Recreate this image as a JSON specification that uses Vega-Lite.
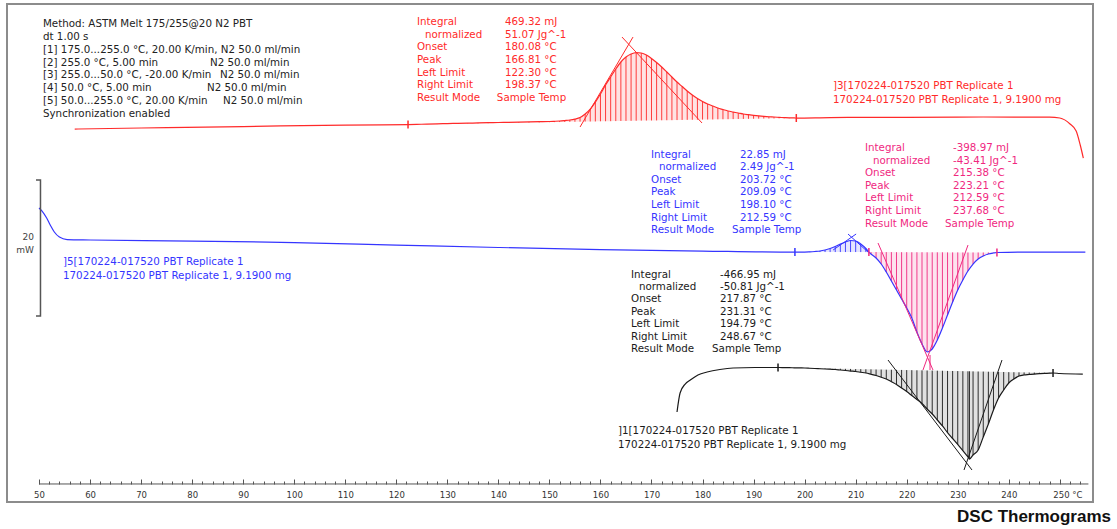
{
"$schema": "https://vega.github.io/schema/vega-lite/v6.json",
"width": 1086, "height": 498,
"autosize": {"type": "none"},
"padding": {"left": 7, "top": 4, "right": 24, "bottom": 27},
"background": "white",
"title": {"text": "DSC Thermograms", "orient": "bottom", "anchor": "end", "font": "Liberation Sans", "fontSize": 17, "fontWeight": "bold", "color": "#111111", "offset": 7, "dx": 18},
"config": {"view": {"stroke": "#8c8c8c", "strokeWidth": 2}},
"datasets": {
"curves": [
{"s":"c3","T":57,"v":54.85},{"s":"c3","T":70,"v":55.0},{"s":"c3","T":90,"v":55.22},{"s":"c3","T":110,"v":55.44},{"s":"c3","T":122.3,"v":55.51},
{"s":"c3","p":"c3","T":124,"v":55.54,"b":55.53},{"s":"c3","p":"c3","T":126,"v":55.57,"b":55.56},{"s":"c3","p":"c3","T":128,"v":55.61,"b":55.58},{"s":"c3","p":"c3","T":130,"v":55.66,"b":55.61},{"s":"c3","p":"c3","T":132,"v":55.69,"b":55.63},{"s":"c3","p":"c3","T":134,"v":55.72,"b":55.66},{"s":"c3","p":"c3","T":136,"v":55.75,"b":55.68},{"s":"c3","p":"c3","T":138,"v":55.78,"b":55.71},{"s":"c3","p":"c3","T":140,"v":55.81,"b":55.73},{"s":"c3","p":"c3","T":142,"v":55.84,"b":55.76},{"s":"c3","p":"c3","T":144,"v":55.87,"b":55.78},{"s":"c3","p":"c3","T":146,"v":55.90,"b":55.81},{"s":"c3","p":"c3","T":148,"v":55.93,"b":55.83},{"s":"c3","p":"c3","T":150,"v":55.96,"b":55.86},
{"s":"c3","p":"c3","T":151,"v":55.99,"b":55.87},{"s":"c3","p":"c3","T":152,"v":56.03,"b":55.88},{"s":"c3","p":"c3","T":153,"v":56.10,"b":55.90},{"s":"c3","p":"c3","T":154,"v":56.18,"b":55.91},{"s":"c3","p":"c3","T":155,"v":56.32,"b":55.92},{"s":"c3","p":"c3","T":156,"v":56.54,"b":55.94},{"s":"c3","p":"c3","T":157,"v":57.06,"b":55.95},{"s":"c3","p":"c3","T":158,"v":57.79,"b":55.96},{"s":"c3","p":"c3","T":159,"v":58.82,"b":55.97},{"s":"c3","p":"c3","T":160,"v":60.0,"b":55.99},
{"s":"c3","p":"c3","T":161,"v":61.32,"b":56.00},{"s":"c3","p":"c3","T":162,"v":62.5,"b":56.01},{"s":"c3","p":"c3","T":163,"v":63.68,"b":56.02},{"s":"c3","p":"c3","T":164,"v":64.71,"b":56.04},{"s":"c3","p":"c3","T":165,"v":65.44,"b":56.05},{"s":"c3","p":"c3","T":166,"v":65.88,"b":56.06},{"s":"c3","p":"c3","T":167,"v":66.10,"b":56.07},{"s":"c3","p":"c3","T":168,"v":66.03,"b":56.09},{"s":"c3","p":"c3","T":169,"v":65.74,"b":56.10},{"s":"c3","p":"c3","T":170,"v":65.22,"b":56.11},
{"s":"c3","p":"c3","T":171,"v":64.63,"b":56.12},{"s":"c3","p":"c3","T":172,"v":63.97,"b":56.14},{"s":"c3","p":"c3","T":173,"v":63.24,"b":56.15},{"s":"c3","p":"c3","T":174,"v":62.5,"b":56.16},{"s":"c3","p":"c3","T":175,"v":61.76,"b":56.17},{"s":"c3","p":"c3","T":176,"v":61.10,"b":56.19},{"s":"c3","p":"c3","T":177,"v":60.44,"b":56.20},{"s":"c3","p":"c3","T":178,"v":59.85,"b":56.21},{"s":"c3","p":"c3","T":179,"v":59.34,"b":56.23},{"s":"c3","p":"c3","T":180,"v":58.90,"b":56.24},
{"s":"c3","p":"c3","T":181,"v":58.53,"b":56.25},{"s":"c3","p":"c3","T":182,"v":58.24,"b":56.26},{"s":"c3","p":"c3","T":183,"v":57.94,"b":56.28},{"s":"c3","p":"c3","T":184,"v":57.72,"b":56.29},{"s":"c3","p":"c3","T":185,"v":57.5,"b":56.30},{"s":"c3","p":"c3","T":186,"v":57.35,"b":56.31},{"s":"c3","p":"c3","T":187,"v":57.21,"b":56.33},{"s":"c3","p":"c3","T":188,"v":57.06,"b":56.34},{"s":"c3","p":"c3","T":189,"v":56.96,"b":56.35},{"s":"c3","p":"c3","T":190,"v":56.87,"b":56.36},
{"s":"c3","p":"c3","T":191,"v":56.79,"b":56.38},{"s":"c3","p":"c3","T":192,"v":56.72,"b":56.39},{"s":"c3","p":"c3","T":193,"v":56.66,"b":56.40},{"s":"c3","p":"c3","T":194,"v":56.62,"b":56.41},{"s":"c3","p":"c3","T":195,"v":56.57,"b":56.43},{"s":"c3","p":"c3","T":196,"v":56.53,"b":56.44},{"s":"c3","p":"c3","T":197,"v":56.50,"b":56.45},{"s":"c3","p":"c3","T":198,"v":56.48,"b":56.46},
{"s":"c3","T":198.37,"v":56.47},{"s":"c3","T":205,"v":56.54},{"s":"c3","T":220,"v":56.58},{"s":"c3","T":235,"v":56.62},{"s":"c3","T":248,"v":56.6},{"s":"c3","T":250,"v":56.47},{"s":"c3","T":252,"v":55.59},{"s":"c3","T":253.2,"v":54.56},{"s":"c3","T":254,"v":52.5},{"s":"c3","T":254.6,"v":50.59},
{"s":"h5","T":50,"v":43.24},{"s":"h5","T":50.6,"v":42.79},{"s":"h5","T":51.5,"v":41.76},{"s":"h5","T":52.2,"v":40.74},{"s":"h5","T":53,"v":39.71},{"s":"h5","T":54,"v":38.97},{"s":"h5","T":55.5,"v":38.60},{"s":"h5","T":60,"v":38.53},{"s":"h5","T":80,"v":38.38},{"s":"h5","T":100,"v":38.16},{"s":"h5","T":120,"v":37.79},{"s":"h5","T":140,"v":37.43},{"s":"h5","T":160,"v":37.13},{"s":"h5","T":180,"v":36.91},{"s":"h5","T":198.1,"v":36.76},
{"s":"h5","p":"h5","T":199,"v":36.76,"b":36.76},{"s":"h5","p":"h5","T":200,"v":36.76,"b":36.76},{"s":"h5","p":"h5","T":201,"v":36.79,"b":36.76},{"s":"h5","p":"h5","T":202,"v":36.84,"b":36.76},{"s":"h5","p":"h5","T":203,"v":36.91,"b":36.76},{"s":"h5","p":"h5","T":204,"v":37.06,"b":36.76},{"s":"h5","p":"h5","T":205,"v":37.28,"b":36.76},{"s":"h5","p":"h5","T":206,"v":37.57,"b":36.76},{"s":"h5","p":"h5","T":207,"v":37.94,"b":36.76},{"s":"h5","p":"h5","T":208,"v":38.24,"b":36.76},{"s":"h5","p":"h5","T":209,"v":38.46,"b":36.76},{"s":"h5","p":"h5","T":210,"v":38.38,"b":36.76},{"s":"h5","p":"h5","T":211,"v":37.94,"b":36.76},{"s":"h5","p":"h5","T":212,"v":37.28,"b":36.76},
{"s":"h5","T":212.59,"v":36.76},
{"s":"h5","p":"h5e","T":213,"v":36.47,"b":36.76},{"s":"h5","p":"h5e","T":214,"v":35.88,"b":36.76},{"s":"h5","p":"h5e","T":215,"v":35.0,"b":36.75},{"s":"h5","p":"h5e","T":216,"v":33.82,"b":36.75},{"s":"h5","p":"h5e","T":217,"v":32.5,"b":36.75},{"s":"h5","p":"h5e","T":218,"v":31.18,"b":36.74},{"s":"h5","p":"h5e","T":219,"v":29.85,"b":36.74},{"s":"h5","p":"h5e","T":220,"v":28.53,"b":36.74},{"s":"h5","p":"h5e","T":221,"v":27.06,"b":36.73},{"s":"h5","p":"h5e","T":222,"v":25.0,"b":36.73},{"s":"h5","p":"h5e","T":223,"v":23.24,"b":36.73},{"s":"h5","p":"h5e","T":224,"v":22.06,"b":36.72},{"s":"h5","p":"h5e","T":225,"v":22.5,"b":36.72},
{"s":"h5","p":"h5e","T":226,"v":23.82,"b":36.72},{"s":"h5","p":"h5e","T":227,"v":25.59,"b":36.72},{"s":"h5","p":"h5e","T":228,"v":27.5,"b":36.71},{"s":"h5","p":"h5e","T":229,"v":29.41,"b":36.71},{"s":"h5","p":"h5e","T":230,"v":31.18,"b":36.71},{"s":"h5","p":"h5e","T":231,"v":32.65,"b":36.70},{"s":"h5","p":"h5e","T":232,"v":33.97,"b":36.70},{"s":"h5","p":"h5e","T":233,"v":35.0,"b":36.70},{"s":"h5","p":"h5e","T":234,"v":35.74,"b":36.70},{"s":"h5","p":"h5e","T":235,"v":36.18,"b":36.69},{"s":"h5","p":"h5e","T":236,"v":36.47,"b":36.69},{"s":"h5","p":"h5e","T":237,"v":36.62,"b":36.69},
{"s":"h5","T":237.68,"v":36.69},{"s":"h5","T":245,"v":36.76},{"s":"h5","T":255,"v":36.76},
{"s":"h1","T":175.0,"v":13.24},{"s":"h1","T":175.6,"v":16.03},{"s":"h1","T":176.6,"v":17.35},{"s":"h1","T":177.6,"v":17.94},{"s":"h1","T":179.1,"v":18.68},{"s":"h1","T":180.9,"v":19.12},{"s":"h1","T":183.4,"v":19.49},{"s":"h1","T":186.0,"v":19.71},{"s":"h1","T":190.3,"v":19.78},{"s":"h1","T":194.79,"v":19.78},
{"s":"h1","p":"h1","T":195,"v":19.78,"b":19.78},{"s":"h1","p":"h1","T":196,"v":19.76,"b":19.76},{"s":"h1","p":"h1","T":197,"v":19.75,"b":19.75},{"s":"h1","p":"h1","T":198,"v":19.74,"b":19.73},{"s":"h1","p":"h1","T":199,"v":19.72,"b":19.72},{"s":"h1","p":"h1","T":200,"v":19.71,"b":19.70},{"s":"h1","p":"h1","T":201,"v":19.67,"b":19.69},{"s":"h1","p":"h1","T":202,"v":19.63,"b":19.67},{"s":"h1","p":"h1","T":203,"v":19.60,"b":19.66},{"s":"h1","p":"h1","T":204,"v":19.56,"b":19.64},
{"s":"h1","p":"h1","T":205,"v":19.52,"b":19.63},{"s":"h1","p":"h1","T":206,"v":19.49,"b":19.61},{"s":"h1","p":"h1","T":207,"v":19.41,"b":19.60},{"s":"h1","p":"h1","T":208,"v":19.34,"b":19.58},{"s":"h1","p":"h1","T":209,"v":19.26,"b":19.57},{"s":"h1","p":"h1","T":210,"v":19.19,"b":19.55},{"s":"h1","p":"h1","T":211,"v":19.08,"b":19.54},{"s":"h1","p":"h1","T":212,"v":18.97,"b":19.52},{"s":"h1","p":"h1","T":213,"v":18.79,"b":19.51},{"s":"h1","p":"h1","T":214,"v":18.60,"b":19.49},
{"s":"h1","p":"h1","T":215,"v":18.35,"b":19.48},{"s":"h1","p":"h1","T":216,"v":18.09,"b":19.46},{"s":"h1","p":"h1","T":217,"v":17.69,"b":19.45},{"s":"h1","p":"h1","T":218,"v":17.28,"b":19.43},{"s":"h1","p":"h1","T":219,"v":16.76,"b":19.42},{"s":"h1","p":"h1","T":220,"v":16.25,"b":19.40},{"s":"h1","p":"h1","T":221,"v":15.66,"b":19.39},{"s":"h1","p":"h1","T":222,"v":15.07,"b":19.37},{"s":"h1","p":"h1","T":223,"v":14.49,"b":19.36},{"s":"h1","p":"h1","T":224,"v":13.68,"b":19.34},
{"s":"h1","p":"h1","T":225,"v":12.94,"b":19.33},{"s":"h1","p":"h1","T":226,"v":12.06,"b":19.31},{"s":"h1","p":"h1","T":227,"v":11.18,"b":19.30},{"s":"h1","p":"h1","T":228,"v":10.22,"b":19.28},{"s":"h1","p":"h1","T":229,"v":9.34,"b":19.27},{"s":"h1","p":"h1","T":230,"v":8.46,"b":19.25},{"s":"h1","p":"h1","T":231,"v":7.57,"b":19.24},{"s":"h1","p":"h1","T":232,"v":6.62,"b":19.22},{"s":"h1","p":"h1","T":232.3,"v":6.32,"b":19.22},{"s":"h1","p":"h1","T":233,"v":6.91,"b":19.21},
{"s":"h1","p":"h1","T":234,"v":7.65,"b":19.19},{"s":"h1","p":"h1","T":235,"v":9.56,"b":19.18},{"s":"h1","p":"h1","T":236,"v":11.47,"b":19.16},{"s":"h1","p":"h1","T":237,"v":13.53,"b":19.15},{"s":"h1","p":"h1","T":238,"v":15.29,"b":19.13},{"s":"h1","p":"h1","T":239,"v":16.47,"b":19.12},{"s":"h1","p":"h1","T":240,"v":17.5,"b":19.10},{"s":"h1","p":"h1","T":241,"v":18.09,"b":19.09},{"s":"h1","p":"h1","T":242,"v":18.53,"b":19.07},{"s":"h1","p":"h1","T":243,"v":18.68,"b":19.06},
{"s":"h1","p":"h1","T":244,"v":18.75,"b":19.04},{"s":"h1","p":"h1","T":245,"v":18.82,"b":19.03},{"s":"h1","p":"h1","T":246,"v":18.87,"b":19.01},{"s":"h1","p":"h1","T":247,"v":18.91,"b":19.00},{"s":"h1","p":"h1","T":248,"v":18.94,"b":18.98},
{"s":"h1","T":248.67,"v":18.97},{"s":"h1","T":250,"v":18.90},{"s":"h1","T":254.5,"v":18.82}
],
"segs": [
{"s":"c3","T":156.0,"v":55.15,"T2":166.38,"v2":68.38},{"s":"c3","T":164.22,"v":68.38,"T2":179.90,"v2":55.74},
{"s":"h1","T":216.34,"v":20.88,"T2":232.79,"v2":4.71},{"s":"h1","T":231.23,"v":4.71,"T2":238.67,"v2":20.88},
{"s":"h5e","T":214.38,"v":38.09,"T2":225.15,"v2":19.41},{"s":"h5e","T":223.19,"v":19.41,"T2":232.01,"v2":37.79},{"s":"h5e","T":224.57,"v":21.62,"T2":224.57,"v2":19.41},
{"s":"h5","T":205.58,"v":37.06,"T2":210.09,"v2":39.41},{"s":"h5","T":208.5,"v":39.41,"T2":212.42,"v2":36.76}
],
"limits": [
{"s":"c3","T":122.3,"v":55.51},{"s":"c3","T":198.37,"v":56.47},
{"s":"h5","T":198.1,"v":36.76},{"s":"h5e","T":212.59,"v":36.76},{"s":"h5e","T":237.68,"v":36.69},
{"s":"h1","T":194.79,"v":19.78},{"s":"h1","T":248.67,"v":18.97}
],
"notes": [
{"s":"k","T":50.78,"v":70.29,"t":"Method: ASTM Melt 175/255@20 N2 PBT"},
{"s":"k","T":50.78,"v":68.38,"t":"dt 1.00 s"},
{"s":"k","T":50.78,"v":66.47,"t":"[1] 175.0...255.0 °C, 20.00 K/min, N2 50.0 ml/min"},
{"s":"k","T":50.78,"v":64.56,"t":"[2] 255.0 °C, 5.00 min"},
{"s":"k","T":83.5,"v":64.56,"t":"N2 50.0 ml/min"},
{"s":"k","T":50.78,"v":62.79,"t":"[3] 255.0...50.0 °C, -20.00 K/min"},
{"s":"k","T":85.46,"v":62.79,"t":"N2 50.0 ml/min"},
{"s":"k","T":50.78,"v":60.88,"t":"[4] 50.0 °C, 5.00 min"},
{"s":"k","T":82.92,"v":60.88,"t":"N2 50.0 ml/min"},
{"s":"k","T":50.78,"v":58.97,"t":"[5] 50.0...255.0 °C, 20.00 K/min"},
{"s":"k","T":86.05,"v":58.97,"t":"N2 50.0 ml/min"},
{"s":"k","T":50.78,"v":57.06,"t":"Synchronization enabled"},
{"s":"c3","T":124.06,"v":70.59,"t":"Integral"},{"s":"c3","T":125.63,"v":68.68,"t":"normalized"},{"s":"c3","T":124.06,"v":66.91,"t":"Onset"},{"s":"c3","T":124.06,"v":65.0,"t":"Peak"},{"s":"c3","T":124.06,"v":63.09,"t":"Left Limit"},{"s":"c3","T":124.06,"v":61.32,"t":"Right Limit"},{"s":"c3","T":124.06,"v":59.41,"t":"Result Mode"},
{"s":"c3","T":141.3,"v":70.59,"t":"469.32 mJ"},{"s":"c3","T":141.3,"v":68.68,"t":"51.07 Jg^-1"},{"s":"c3","T":141.3,"v":66.91,"t":"180.08 °C"},{"s":"c3","T":141.3,"v":65.0,"t":"166.81 °C"},{"s":"c3","T":141.3,"v":63.09,"t":"122.30 °C"},{"s":"c3","T":141.3,"v":61.32,"t":"198.37 °C"},{"s":"c3","T":139.7,"v":59.41,"t":"Sample Temp"},
{"s":"c3","T":205.56,"v":61.18,"t":"]3[170224-017520 PBT Replicate 1"},{"s":"c3","T":205.56,"v":59.12,"t":"170224-017520 PBT Replicate 1, 9.1900 mg"},
{"s":"h5","T":169.91,"v":51.03,"t":"Integral"},{"s":"h5","T":171.47,"v":49.26,"t":"normalized"},{"s":"h5","T":169.91,"v":47.35,"t":"Onset"},{"s":"h5","T":169.91,"v":45.59,"t":"Peak"},{"s":"h5","T":169.91,"v":43.68,"t":"Left Limit"},{"s":"h5","T":169.91,"v":41.76,"t":"Right Limit"},{"s":"h5","T":169.91,"v":40.0,"t":"Result Mode"},
{"s":"h5","T":187.34,"v":51.03,"t":"22.85 mJ"},{"s":"h5","T":187.34,"v":49.26,"t":"2.49 Jg^-1"},{"s":"h5","T":187.34,"v":47.35,"t":"203.72 °C"},{"s":"h5","T":187.34,"v":45.59,"t":"209.09 °C"},{"s":"h5","T":187.34,"v":43.68,"t":"198.10 °C"},{"s":"h5","T":187.34,"v":41.76,"t":"212.59 °C"},{"s":"h5","T":185.77,"v":40.0,"t":"Sample Temp"},
{"s":"h5e","T":211.83,"v":52.06,"t":"Integral"},{"s":"h5e","T":213.4,"v":50.15,"t":"normalized"},{"s":"h5e","T":211.83,"v":48.38,"t":"Onset"},{"s":"h5e","T":211.83,"v":46.47,"t":"Peak"},{"s":"h5e","T":211.83,"v":44.71,"t":"Left Limit"},{"s":"h5e","T":211.83,"v":42.79,"t":"Right Limit"},{"s":"h5e","T":211.83,"v":40.88,"t":"Result Mode"},
{"s":"h5e","T":229.08,"v":52.06,"t":"-398.97 mJ"},{"s":"h5e","T":229.08,"v":50.15,"t":"-43.41 Jg^-1"},{"s":"h5e","T":229.08,"v":48.38,"t":"215.38 °C"},{"s":"h5e","T":229.08,"v":46.47,"t":"223.21 °C"},{"s":"h5e","T":229.08,"v":44.71,"t":"212.59 °C"},{"s":"h5e","T":229.08,"v":42.79,"t":"237.68 °C"},{"s":"h5e","T":227.51,"v":40.88,"t":"Sample Temp"},
{"s":"h1","T":165.99,"v":33.38,"t":"Integral"},{"s":"h1","T":167.55,"v":31.62,"t":"normalized"},{"s":"h1","T":165.99,"v":29.85,"t":"Onset"},{"s":"h1","T":165.99,"v":27.94,"t":"Peak"},{"s":"h1","T":165.99,"v":26.18,"t":"Left Limit"},{"s":"h1","T":165.99,"v":24.26,"t":"Right Limit"},{"s":"h1","T":165.99,"v":22.5,"t":"Result Mode"},
{"s":"h1","T":183.42,"v":33.38,"t":"-466.95 mJ"},{"s":"h1","T":183.42,"v":31.62,"t":"-50.81 Jg^-1"},{"s":"h1","T":183.42,"v":29.85,"t":"217.87 °C"},{"s":"h1","T":183.42,"v":27.94,"t":"231.31 °C"},{"s":"h1","T":183.42,"v":26.18,"t":"194.79 °C"},{"s":"h1","T":183.42,"v":24.26,"t":"248.67 °C"},{"s":"h1","T":181.86,"v":22.5,"t":"Sample Temp"},
{"s":"h5","T":54.7,"v":35.29,"t":"]5[170224-017520 PBT Replicate 1"},{"s":"h5","T":54.7,"v":33.24,"t":"170224-017520 PBT Replicate 1, 9.1900 mg"},
{"s":"h1","T":163.44,"v":10.44,"t":"]1[170224-017520 PBT Replicate 1"},{"s":"h1","T":163.44,"v":8.38,"t":"170224-017520 PBT Replicate 1, 9.1900 mg"}
],
"scalebar": [
{"o":1,"T":49.41,"v":47.35},{"o":2,"T":50.29,"v":47.35},{"o":3,"T":50.29,"v":27.35},{"o":4,"T":49.41,"v":27.35}
],
"scalelabel": [
{"T":49.02,"v":38.97,"t":"20"},{"T":49.02,"v":37.06,"t":"mW"}
],
"axisline": [
{"T":50,"T2":255.6,"v":2.65}
]
},
"encoding": {
"x": {"field":"T","type":"quantitative","scale":{"domain":[43.73,256.5],"nice":false,"zero":false},
 "axis": {"title": null, "domain": false, "grid": false, "offset": -18,
  "values": [50,52,54,56,58,60,62,64,66,68,70,72,74,76,78,80,82,84,86,88,90,92,94,96,98,100,102,104,106,108,110,112,114,116,118,120,122,124,126,128,130,132,134,136,138,140,142,144,146,148,150,152,154,156,158,160,162,164,166,168,170,172,174,176,178,180,182,184,186,188,190,192,194,196,198,200,202,204,206,208,210,212,214,216,218,220,222,224,226,228,230,232,234,236,238,240,242,244,246,248,250,252,254],
  "labelExpr": "datum.value % 10 === 0 ? (datum.value === 250 ? '250 °C' : format(datum.value, 'd')) : ''",
  "tickSize": {"condition": {"test": "datum.value % 10 === 0", "value": -5}, "value": -3},
  "tickColor": "#555555", "tickWidth": 1,
  "labelPadding": 11, "labelOverlap": false, "labelBound": false, "labelFlush": false,
  "labelFont": "DejaVu Sans", "labelFontSize": 8.5, "labelColor": "#333333",
  "labelAlign": {"condition": {"test": "datum.value === 250", "value": "left"}, "value": "center"},
  "labelOffset": {"condition": {"test": "datum.value === 250", "value": -7}, "value": 0}
 }},
"y": {"field":"v","type":"quantitative","scale":{"domain":[0,73.24],"nice":false,"zero":false},"axis":null}
},
"layer": [
{"data":{"name":"curves"},"transform":[{"filter":{"field":"b","valid":true}}],
 "mark":{"type":"area","opacity":0.13,"interpolate":"monotone"},
 "encoding":{"y2":{"field":"b"},"color":{"field":"p","type":"nominal","scale":{"domain":["c3","h5","h5e","h1","k"],"range":["#ff2a2a","#3535ff","#f0287f","#1a1a1a","#222222"]},"legend":null},"detail":{"field":"p"}}},
{"data":{"name":"curves"},"transform":[{"filter":{"field":"b","valid":true}}],
 "mark":{"type":"rule","strokeWidth":1,"opacity":0.9},
 "encoding":{"y2":{"field":"b"},"color":{"field":"p","type":"nominal","legend":null}}},
{"data":{"name":"curves"},
 "mark":{"type":"line","strokeWidth":1.2,"interpolate":"monotone"},
 "encoding":{"color":{"field":"s","type":"nominal","legend":null},"detail":{"field":"s"}}},
{"data":{"name":"segs"},
 "mark":{"type":"rule","strokeWidth":1},
 "encoding":{"x2":{"field":"T2"},"y2":{"field":"v2"},"color":{"field":"s","type":"nominal","legend":null}}},
{"data":{"name":"limits"},
 "mark":{"type":"point","shape":"M0,-1L0,1","filled":false,"size":64,"strokeWidth":1.5,"opacity":1},
 "encoding":{"color":{"field":"s","type":"nominal","legend":null}}},
{"data":{"name":"notes"},
 "mark":{"type":"text","align":"left","baseline":"middle","font":"DejaVu Sans","fontSize":10.3},
 "encoding":{"text":{"field":"t"},"color":{"field":"s","type":"nominal","legend":null}}},
{"data":{"name":"scalelabel"},
 "mark":{"type":"text","align":"right","baseline":"middle","font":"DejaVu Sans","fontSize":9,"color":"#444444"},
 "encoding":{"text":{"field":"t"}}},
{"data":{"name":"scalebar"},
 "mark":{"type":"line","strokeWidth":1.5,"color":"#555555"},
 "encoding":{"order":{"field":"o"}}},
{"data":{"name":"axisline"},
 "mark":{"type":"rule","strokeWidth":1,"color":"#555555"},
 "encoding":{"x2":{"field":"T2"}}}
]
}
